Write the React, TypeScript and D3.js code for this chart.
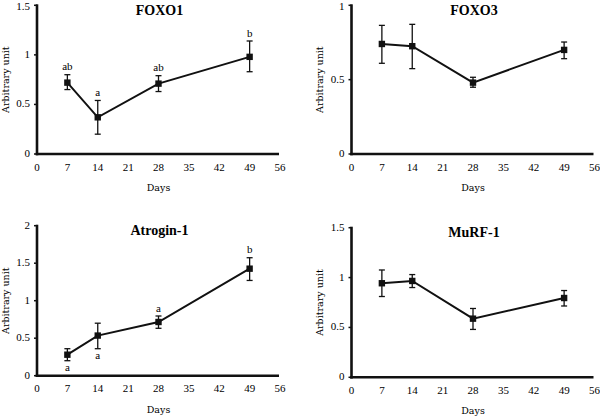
import React from "react";
import * as d3 from "d3";

const days = [7, 14, 28, 49];
const xTicks = [0, 7, 14, 21, 28, 35, 42, 49, 56];

const foxo1Mean = [0.72, 0.37, 0.71, 0.98];
const foxo1Lo = [0.65, 0.2, 0.63, 0.83];
const foxo1Hi = [0.8, 0.54, 0.79, 1.14];
const foxo1Labels = ["ab", "a", "ab", "b"];
const foxo1LabelPos = ["above", "above", "above", "above"];

const foxo3Mean = [0.74, 0.725, 0.48, 0.7];
const foxo3Lo = [0.61, 0.574, 0.449, 0.641];
const foxo3Hi = [0.865, 0.872, 0.516, 0.753];

const atroMean = [0.28, 0.535, 0.716, 1.427];
const atroLo = [0.2, 0.36, 0.632, 1.27];
const atroHi = [0.36, 0.7, 0.796, 1.573];
const atroLabels = ["a", "a", "a", "b"];
const atroLabelPos = ["below", "below", "above", "above"];

const murfMean = [0.943, 0.966, 0.588, 0.795];
const murfLo = [0.81, 0.9, 0.48, 0.715];
const murfHi = [1.076, 1.03, 0.69, 0.87];

type PanelProps = {
  title: string;
  ox: number;
  oy: number;
  axisX: number;
  yTop: number;
  yBottom: number;
  yMax: number;
  yTicks: number[];
  mean: number[];
  lo: number[];
  hi: number[];
  labels?: string[];
  labelPos?: string[];
};

const FONT = "Liberation Serif, DejaVu Serif, serif";
const tStyle = { fontFamily: FONT };
const wStyle = { fontFamily: "DejaVu Serif, serif" };

function Panel(p: PanelProps) {
  const x = d3.scaleLinear().domain([0, 56]).range([p.axisX, p.axisX + 243]);
  const y = d3.scaleLinear().domain([0, p.yMax]).range([p.yBottom, p.yTop]);
  const line = d3
    .line<number>()
    .x((_, i) => x(days[i]))
    .y((d) => y(d));
  const xEnd = x(56) - 1;
  return (
    <g transform={`translate(${p.ox},${p.oy})`}>
      <text
        x={x(28) + 1}
        y={p.yTop + 6}
        textAnchor="middle"
        style={tStyle}
        fontWeight="bold"
        fontSize={14}
        dominantBaseline="middle"
      >
        {p.title}
      </text>
      <line x1={p.axisX} x2={p.axisX} y1={p.yTop - 1} y2={p.yBottom + 1.3} stroke="#111" strokeWidth={2.6} />
      <line x1={p.axisX - 1.3} x2={xEnd} y1={p.yBottom} y2={p.yBottom} stroke="#111" strokeWidth={2.6} />
      {p.yTicks.map((t) => (
        <g key={t}>
          <line x1={p.axisX - 3} x2={p.axisX} y1={y(t)} y2={y(t)} stroke="#111" strokeWidth={1.5} />
          <text
            x={p.axisX - 7}
            y={Math.max(y(t) + 0.5, 7.5 - p.oy)}
            textAnchor="end"
            dominantBaseline="middle"
            style={tStyle}
            fontSize={11}
          >
            {t}
          </text>
        </g>
      ))}
      {xTicks.map((t) => (
        <text
          key={t}
          x={x(t)}
          y={p.yBottom + 14}
          textAnchor="middle"
          dominantBaseline="middle"
          style={tStyle}
          fontSize={11}
        >
          {t}
        </text>
      ))}
      <text
        x={x(28)}
        y={p.yBottom + 34.5}
        textAnchor="middle"
        dominantBaseline="middle"
        style={wStyle}
        fontSize={9.5}
      >
        Days
      </text>
      <text
        transform={`translate(${p.axisX - 31},${(p.yTop + p.yBottom) / 2}) rotate(-90)`}
        textAnchor="middle"
        dominantBaseline="middle"
        style={wStyle}
        fontSize={9.5}
      >
        Arbitrary unit
      </text>
      {days.map((d, i) => (
        <g key={d} stroke="#111" strokeWidth={1.3}>
          <line x1={x(d)} x2={x(d)} y1={y(p.lo[i])} y2={y(p.hi[i])} />
          <line x1={x(d) - 3} x2={x(d) + 3} y1={y(p.lo[i])} y2={y(p.lo[i])} />
          <line x1={x(d) - 3} x2={x(d) + 3} y1={y(p.hi[i])} y2={y(p.hi[i])} />
        </g>
      ))}
      <path d={line(p.mean) || ""} fill="none" stroke="#111" strokeWidth={2} />
      {days.map((d, i) => (
        <rect key={d} x={x(d) - 3.2} y={y(p.mean[i]) - 3.2} width={6.4} height={6.4} fill="#111" />
      ))}
      {p.labels &&
        days.map((d, i) => {
          const below = p.labelPos && p.labelPos[i] === "below";
          const yy = below ? y(p.lo[i]) + 8 : y(p.hi[i]) - 7;
          return (
            <text
              key={d}
              x={x(d)}
              y={yy}
              textAnchor="middle"
              dominantBaseline="middle"
              style={tStyle}
              fontSize={11}
            >
              {p.labels![i]}
            </text>
          );
        })}
    </g>
  );
}

export default function App() {
  return (
    <svg width={600} height={417} style={{ position: "absolute", left: 0, top: 0, background: "#fff", fontFamily: FONT }}>
      <rect width={600} height={417} fill="#fff" />
      <Panel
        title="FOXO1"
        ox={0}
        oy={0}
        axisX={37}
        yTop={5.3}
        yBottom={154}
        yMax={1.5}
        yTicks={[0, 0.5, 1, 1.5]}
        mean={foxo1Mean}
        lo={foxo1Lo}
        hi={foxo1Hi}
        labels={foxo1Labels}
        labelPos={foxo1LabelPos}
      />
      <Panel
        title="FOXO3"
        ox={300}
        oy={0}
        axisX={51.5}
        yTop={5.3}
        yBottom={154}
        yMax={1}
        yTicks={[0, 0.5, 1]}
        mean={foxo3Mean}
        lo={foxo3Lo}
        hi={foxo3Hi}
      />
      <Panel
        title="Atrogin-1"
        ox={0}
        oy={210}
        axisX={37}
        yTop={15.7}
        yBottom={165.7}
        yMax={2}
        yTicks={[0, 0.5, 1, 1.5, 2]}
        mean={atroMean}
        lo={atroLo}
        hi={atroHi}
        labels={atroLabels}
        labelPos={atroLabelPos}
      />
      <Panel
        title="MuRF-1"
        ox={300}
        oy={210}
        axisX={51.5}
        yTop={17.7}
        yBottom={167.3}
        yMax={1.5}
        yTicks={[0, 0.5, 1, 1.5]}
        mean={murfMean}
        lo={murfLo}
        hi={murfHi}
      />
    </svg>
  );
}
